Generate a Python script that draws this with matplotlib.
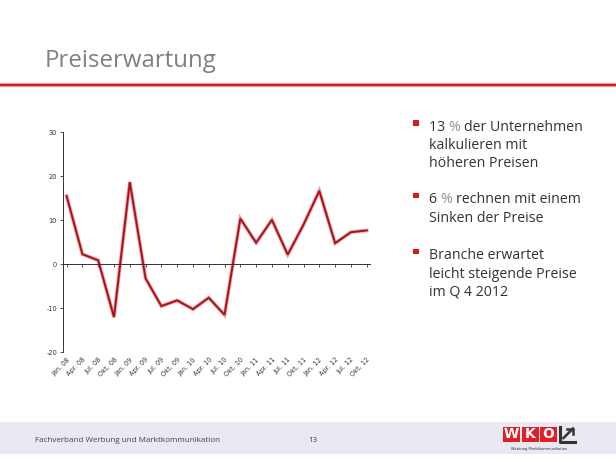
import matplotlib
matplotlib.use("Agg")
import matplotlib.pyplot as plt
from matplotlib.patches import Rectangle
from matplotlib.lines import Line2D

quarters = ["Jan. 08", "Apr. 08", "Jul. 08", "Okt. 08",
            "Jan. 09", "Apr. 09", "Jul. 09", "Okt. 09",
            "Jan. 10", "Apr. 10", "Jul. 10", "Okt. 10",
            "Jan. 11", "Apr. 11", "Jul. 11", "Okt. 11",
            "Jan. 12", "Apr. 12", "Jul. 12", "Okt. 12"]
values = [15.5, 2.3, 0.9, -12.0,
          18.7, -3.2, -9.5, -8.2,
          -10.2, -7.6, -11.5, 10.4,
          4.9, 10.1, 2.2, 9.0,
          16.7, 4.8, 7.3, 7.7]
yticks = [-20, -10, 0, 10, 20, 30]

title = "Preiserwartung"
bullets = [
    [["13 ", "% ", "der Unternehmen"], "kalkulieren mit", "höheren Preisen"],
    [["6 ", "% ", "rechnen mit einem"], "Sinken der Preise"],
    [["Branche erwartet"], "leicht steigende Preise", "im Q 4 2012"],
]
footer_text = "Fachverband Werbung und Marktkommunikation"
page_no = "13"

W, H = 616, 462
fig = plt.figure(figsize=(W / 100, H / 100), dpi=100)
fig.patch.set_facecolor("white")


def fx(px):
    return px / W


def fy(py):
    return 1 - py / H


FONT = "Open Sans"
BULLET_SIZE = 10.2

# Title and red rule
fig.text(fx(45), fy(67), title, fontsize=17.3, color="#808080",
         family=FONT, va="baseline", ha="left")
fig.add_artist(Line2D([0, 1], [fy(85), fy(85)], color="#f0b0b0", lw=3.2))
fig.add_artist(Line2D([0, 1], [fy(85), fy(85)], color="#c81e28", lw=1.6))

# Chart axes
left, right, top, bottom = 63.3, 370, 132.3, 352.3
ax = fig.add_axes([fx(left), fy(bottom), fx(right - left), (bottom - top) / H])
x = list(range(len(quarters)))
ax.plot(x, values, color="#e04a50", lw=2.6, alpha=0.55, solid_joinstyle="miter")
ax.plot(x, values, color="#a8141c", lw=1.4, solid_joinstyle="miter")
ax.set_ylim(-20, 30)
ax.set_xlim(-0.21, 19.21)
ax.set_yticks(yticks)
ax.set_yticklabels([str(v) for v in yticks])
ax.tick_params(axis="y", labelsize=4.8, colors="#333333", length=2.5, width=0.6, pad=2)
for s in ["top", "right"]:
    ax.spines[s].set_visible(False)
ax.spines["left"].set_color("#333333")
ax.spines["left"].set_linewidth(0.7)
ax.spines["bottom"].set_position(("data", 0))
ax.spines["bottom"].set_color("#333333")
ax.spines["bottom"].set_linewidth(0.7)
ax.set_xticks(x)
ax.tick_params(axis="x", length=2, width=0.6, colors="#333333", labelbottom=False)
ax.patch.set_alpha(0)

sec = ax.secondary_xaxis("bottom")
sec.set_xticks(x)
sec.set_xticklabels(quarters, rotation=45, ha="right", va="top",
                    rotation_mode="anchor")
sec.tick_params(axis="x", length=0, labelsize=4.7, colors="#333333", pad=3)
sec.spines["bottom"].set_visible(False)

# Bullets
bx_sq, bx_txt = 413, 429
blocks_y = [130.7, 203.3, 259.3]
line_h = 18.2
fig.canvas.draw()
renderer = fig.canvas.get_renderer()
for block, y0 in zip(bullets, blocks_y):
    fig.add_artist(Rectangle((fx(bx_sq), fy(y0 - 5)), fx(5.5), 5.5 / H,
                             color="#e0141e", lw=0, transform=fig.transFigure))
    for i, line in enumerate(block):
        yy = y0 + i * line_h
        parts = line if isinstance(line, list) else [line]
        xpos = fx(bx_txt)
        for part in parts:
            col = "#909090" if part.strip() == "%" else "#333333"
            t = fig.text(xpos, fy(yy), part, fontsize=BULLET_SIZE, color=col,
                         family=FONT, va="baseline", ha="left")
            bb = t.get_window_extent(renderer)
            xpos = bb.x1 / W

# Footer band
fig.add_artist(Rectangle((0, fy(454)), 1, 32 / H, color="#e8e9f1", lw=0,
                         transform=fig.transFigure, zorder=0))
fig.text(fx(35), fy(441.5), footer_text, fontsize=5.8, color="#444444",
         family=FONT, va="baseline", ha="left")
fig.text(fx(313), fy(442), page_no, fontsize=5.8, color="#444444",
         family=FONT, va="baseline", ha="center")

# Logo
box_w, gap = 17, 1.5
for k, letter in enumerate("WKO"):
    x0 = 503 + k * (box_w + gap)
    fig.add_artist(Rectangle((fx(x0), fy(442)), fx(box_w), 15 / H,
                             color="#e01f26", lw=0, transform=fig.transFigure))
    fig.text(fx(x0 + box_w / 2), fy(434.5), letter, fontsize=10, color="white",
             weight="bold", family="DejaVu Sans", ha="center", va="center")
fig.add_artist(Line2D([fx(560), fx(560), fx(575)], [fy(427), fy(441.5), fy(441.5)],
                      color="#333333", lw=2.2))
fig.add_artist(Line2D([fx(563.5), fx(573)], [fy(438), fy(428.5)],
                      color="#333333", lw=1.8))
fig.add_artist(Line2D([fx(567), fx(573), fx(573)], [fy(428.5), fy(428.5), fy(434)],
                      color="#333333", lw=1.8))
fig.text(fx(539), fy(449), "Werbung Marktkommunikation", fontsize=2.6,
         color="#333333", family="DejaVu Sans", ha="center", va="center")

fig.savefig("out.png", dpi=100, facecolor="white")
